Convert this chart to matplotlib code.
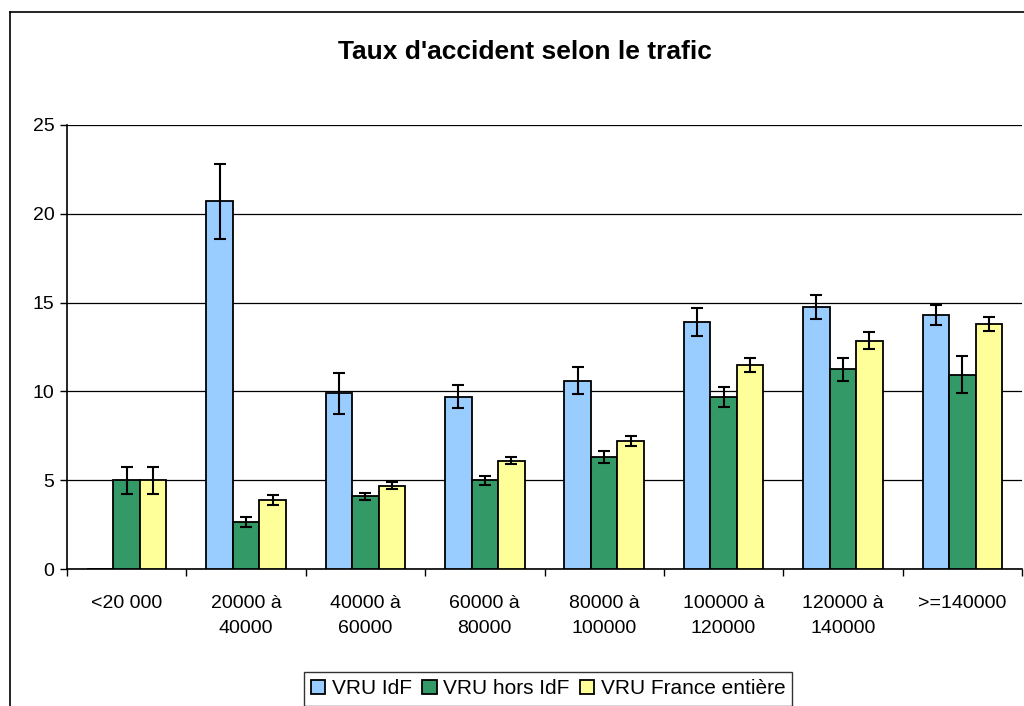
import matplotlib.pyplot as plt
from matplotlib.lines import Line2D
import numpy as np

plt.rcParams['font.family'] = ['Liberation Sans', 'DejaVu Sans']

# Categories and values
categories = ['<20 000', '20000 à\n40000', '40000 à\n60000', '60000 à\n80000',
              '80000 à\n100000', '100000 à\n120000', '120000 à\n140000', '>=140000']
series_names = ['VRU IdF', 'VRU hors IdF', 'VRU France entière']
vru_idf = [0.0, 20.7, 9.9, 9.7, 10.6, 13.9, 14.75, 14.3]
vru_idf_err = [0.0, 2.1, 1.15, 0.65, 0.75, 0.77, 0.68, 0.56]
vru_hors = [5.0, 2.67, 4.1, 5.0, 6.3, 9.7, 11.24, 10.95]
vru_hors_err = [0.75, 0.28, 0.2, 0.25, 0.35, 0.57, 0.66, 1.05]
vru_france = [5.0, 3.9, 4.7, 6.1, 7.2, 11.5, 12.86, 13.8]
vru_france_err = [0.75, 0.28, 0.2, 0.2, 0.3, 0.4, 0.47, 0.39]
colours = ['#99CCFF', '#339966', '#FFFF99']

fig = plt.figure(figsize=(10.24, 7.06), dpi=100)
ax = fig.add_axes([67/1024, 1 - 569/706, (1022 - 67)/1024, (569 - 125)/706])

x = np.arange(len(categories))
width = 1/4.5
values = [vru_idf, vru_hors, vru_france]
errors = [vru_idf_err, vru_hors_err, vru_france_err]
for i in range(3):
    pos = x + (i - 1)*width
    ax.bar(pos, values[i], width, color=colours[i], edgecolor='black',
           linewidth=1.3, label=series_names[i], zorder=3)
    err = np.array(errors[i])
    mask = err > 0
    ax.errorbar(pos[mask], np.array(values[i])[mask], yerr=err[mask], fmt='none',
                ecolor='black', elinewidth=1.5, capsize=4, capthick=1.5, zorder=4)

ax.set_xlim(-0.5, len(categories) - 0.5)
ax.set_ylim(0, 25)
ax.set_yticks(range(0, 26, 5))
ax.yaxis.grid(True, color='black', linewidth=0.9, zorder=0)
ax.set_xticks(x)
ax.set_xticklabels(categories, fontsize=14, linespacing=1.6)
ax.tick_params(axis='x', length=0, pad=19)
ax.set_xticks(np.arange(-0.5, len(categories)), minor=True)
ax.tick_params(axis='x', which='minor', length=5, width=1)
ax.tick_params(axis='y', length=5, width=1, labelsize=14, pad=4)
for side in ['top', 'right']:
    ax.spines[side].set_visible(False)
ax.spines['left'].set_linewidth(1.2)
ax.spines['bottom'].set_linewidth(1.2)

fig.text(525/1024, 1 - 52/706, "Taux d'accident selon le trafic",
         ha='center', va='center', fontsize=19, fontweight='bold')

leg = fig.legend(loc='upper center', bbox_to_anchor=(548/1024, 1 - 672/706),
                 ncol=3, fontsize=15, frameon=True, fancybox=False,
                 edgecolor='black', handlelength=0.7, handleheight=0.7,
                 handletextpad=0.3, columnspacing=0.5, borderpad=0.35,
                 borderaxespad=0)
leg.get_frame().set_linewidth(1.0)

# outer chart frame
fig.add_artist(Line2D([10/1024, 1], [1 - 12/706, 1 - 12/706], color='black', linewidth=1.2))
fig.add_artist(Line2D([10/1024, 10/1024], [0, 1 - 12/706], color='black', linewidth=1.2))

plt.savefig('out.png', dpi=100)
